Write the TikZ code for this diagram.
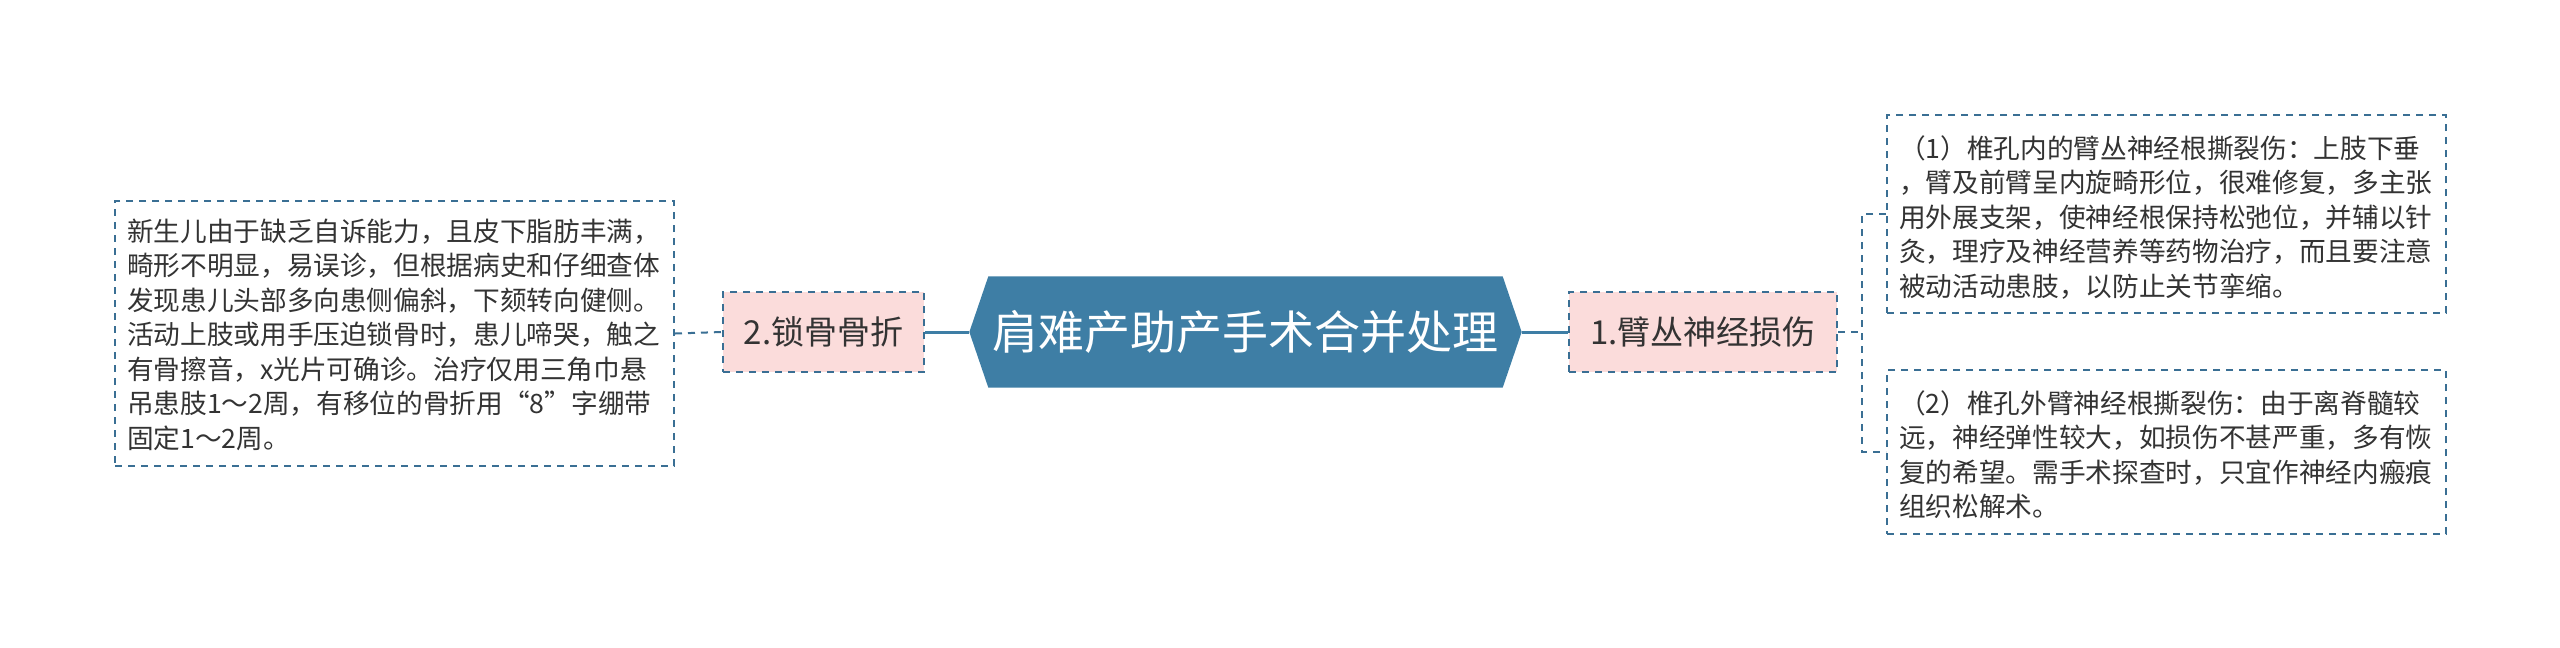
\documentclass[tikz,border=0pt]{standalone}
\usepackage{fontspec}
\setmainfont{Noto Sans CJK SC}
\usetikzlibrary{calc,backgrounds}
\definecolor{rootblue}{HTML}{3E7EA5}
\definecolor{dashblue}{HTML}{3A6F94}
\definecolor{pinkfill}{HTML}{FBDCDB}
\definecolor{txt}{HTML}{333333}
\begin{document}
\begin{tikzpicture}[x=0.3pt,y=-0.3pt,
  leaf/.style={draw=dashblue, line width=0.6pt, dash pattern=on 2.1pt off 1.8pt,
    fill=white, text=txt, font=\fontsize{8pt}{10.35pt}\selectfont,
    text width=160.5pt, inner xsep=3.6pt, inner ysep=0pt, align=left, anchor=north west},
  sub/.style={draw=dashblue, line width=0.6pt, dash pattern=on 2.1pt off 1.8pt,
    fill=pinkfill, text=txt, font=\fontsize{9.9pt}{12pt}\selectfont,
    minimum height=24pt, inner sep=0pt},
  rootnode/.style={text=white, font=\fontsize{13.8pt}{16pt}\selectfont,
    minimum width=165.3pt, minimum height=33pt, inner sep=0pt},
  conn/.style={draw=rootblue, line width=0.9pt},
  dconn/.style={draw=dashblue, line width=0.6pt, dash pattern=on 2.1pt off 1.8pt},
]
\useasboundingbox (0,0) rectangle (2560,647);

\node[rootnode] (root) at (1245.5,332) {肩难产助产手术合并处理};

\node[sub, minimum width=60.3pt] (n2) at (823.5,332) {2.锁骨骨折};
\node[sub, minimum width=80.4pt] (n1) at (1703,332) {1.臂丛神经损伤};

\node[leaf] (left) at (114,200) {\rule{0pt}{12pt}新生儿由于缺乏自诉能力，且皮下脂肪丰满，\\
畸形不明显，易误诊，但根据病史和仔细查体\\
发现患儿头部多向患侧偏斜，下颏转向健侧。\\
活动上肢或用手压迫锁骨时，患儿啼哭，触之\\
有骨擦音，x光片可确诊。治疗仅用三角巾悬\\
吊患肢1～2周，有移位的骨折用“8”字绷带\\
固定1～2周。\rule[-5.4pt]{0pt}{5.4pt}};

\node[leaf] (r1) at (1886,114) {\rule{0pt}{12.9pt}（1）椎孔内的臂丛神经根撕裂伤：上肢下垂\\
，臂及前臂呈内旋畸形位，很难修复，多主张\\
用外展支架，使神经根保持松弛位，并辅以针\\
灸，理疗及神经营养等药物治疗，而且要注意\\
被动活动患肢，以防止关节挛缩。\rule[-5.1pt]{0pt}{5.1pt}};

\node[leaf] (r2) at (1886,369) {\rule{0pt}{12.9pt}（2）椎孔外臂神经根撕裂伤：由于离脊髓较\\
远，神经弹性较大，如损伤不甚严重，多有恢\\
复的希望。需手术探查时，只宜作神经内瘢痕\\
组织松解术。\rule[-5.25pt]{0pt}{5.25pt}};

\begin{scope}[on background layer]
  \fill[white] (0,0) rectangle (2560,647);
  \fill[rootblue] ($(root.north west)+(19,0)$) -- ($(root.north east)+(-19,0)$) -- (root.east)
    -- ($(root.south east)+(-19,0)$) -- ($(root.south west)+(19,0)$) -- (root.west) -- cycle;
\end{scope}

\draw[conn] (n2.east) -- (root.west);
\draw[conn] (root.east) -- (n1.west);
\draw[dconn] (left.east) -- (n2.west);
\coordinate (bj) at (1862,332);
\draw[dconn] (n1.east) -- (bj);
\draw[dconn] (r1.west) -| (bj) |- (r2.west);
\end{tikzpicture}
\end{document}
